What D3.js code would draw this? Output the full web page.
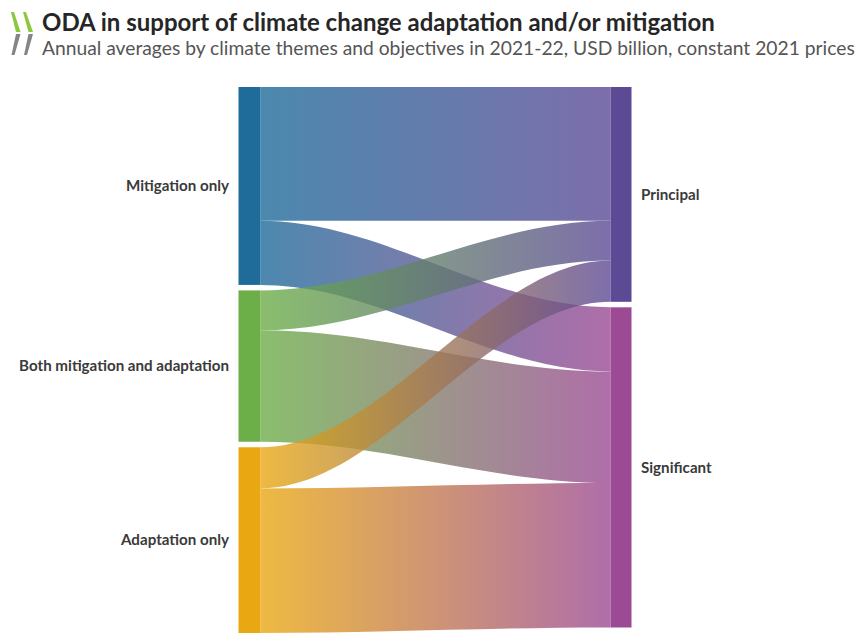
<!DOCTYPE html>
<html>
<head>
<meta charset="utf-8">
<script src="https://cdn.jsdelivr.net/npm/d3@7"></script>
<style>
  body { margin: 0; background: #fff; }
  svg { display: block; }
</style>
</head>
<body>
<svg id="chart" width="858" height="643"></svg>
<script>
// ODA climate themes (left) flowing to Rio marker objectives (right), USD billion
const themes = ["Mitigation only", "Both mitigation and adaptation", "Adaptation only"];
const objectives = ["Principal", "Significant"];
const toPrincipal   = [9.9, 2.95, 3.05];
const toSignificant = [4.75, 8.25, 10.7];

const themeColors     = ["#1f6b9a", "#6cae48", "#e9a812"];
const objectiveColors = ["#5c4a95", "#9b4a93"];

const titleText = "ODA in support of climate change adaptation and/or mitigation";
const subtitleText = "Annual averages by climate themes and objectives in 2021-22, USD billion, constant 2021 prices";

const svg = d3.select("#chart");
const font = "Lato, 'Open Sans', sans-serif";

// Layout
const plotTop = 87, plotBottom = 633;
const nodePad = 5.5;
const leftX = 238.5, leftW = 22;
const rightX = 610.5, rightW = 21;
const curveFactor = 0.33;

// Links table built from the value arrays
const links = [];
themes.forEach((t, i) => {
  links.push({ s: i, t: 0, value: toPrincipal[i] });
  links.push({ s: i, t: 1, value: toSignificant[i] });
});

const leftTotals = themes.map((_, i) => toPrincipal[i] + toSignificant[i]);
const rightTotals = [d3.sum(toPrincipal), d3.sum(toSignificant)];
const maxTotal = Math.max(d3.sum(leftTotals), d3.sum(rightTotals));
const maxCount = Math.max(themes.length, objectives.length);

const h = d3.scaleLinear()
  .domain([0, maxTotal])
  .range([0, (plotBottom - plotTop) - (maxCount - 1) * nodePad]);

function stack(totals) {
  let y = plotTop;
  return totals.map(v => {
    const n = { y0: y, y1: y + h(v) };
    y = n.y1 + nodePad;
    return n;
  });
}
const leftNodes = stack(leftTotals);
const rightNodes = stack(rightTotals);

// Link offsets: source side ordered by objective, target side ordered by theme
const srcOff = leftNodes.map(n => n.y0);
const tgtOff = rightNodes.map(n => n.y0);
links.forEach(l => {
  const th = h(l.value);
  l.sy0 = srcOff[l.s]; l.sy1 = l.sy0 + th; srcOff[l.s] = l.sy1;
});
d3.range(objectives.length).forEach(t => {
  links.filter(l => l.t === t).sort((a, b) => a.s - b.s).forEach(l => {
    const th = h(l.value);
    l.ty0 = tgtOff[t]; l.ty1 = l.ty0 + th; tgtOff[t] = l.ty1;
  });
});

const defs = svg.append("defs");
const x0 = leftX + leftW, x1 = rightX;
const curvy = (rightX - leftX) * curveFactor;

links.forEach((l, i) => {
  const g = defs.append("linearGradient")
    .attr("id", "lg" + i)
    .attr("gradientUnits", "userSpaceOnUse")
    .attr("x1", x0).attr("x2", x1).attr("y1", 0).attr("y2", 0);
  g.append("stop").attr("offset", "0%").attr("stop-color", themeColors[l.s]);
  g.append("stop").attr("offset", "100%").attr("stop-color", objectiveColors[l.t]);
});

function ribbon(l) {
  const p = d3.path();
  p.moveTo(x0, l.sy0);
  p.bezierCurveTo(x0 + curvy, l.sy0, x1 - curvy, l.ty0, x1, l.ty0);
  p.lineTo(x1, l.ty1);
  p.bezierCurveTo(x1 - curvy, l.ty1, x0 + curvy, l.sy1, x0, l.sy1);
  p.closePath();
  return p.toString();
}

svg.append("g").selectAll("path")
  .data(links)
  .join("path")
  .attr("d", ribbon)
  .attr("fill", (d, i) => `url(#lg${i})`)
  .attr("fill-opacity", 0.8);

// Nodes
svg.append("g").selectAll("rect")
  .data(leftNodes)
  .join("rect")
  .attr("x", leftX).attr("width", leftW)
  .attr("y", d => d.y0).attr("height", d => d.y1 - d.y0)
  .attr("fill", (d, i) => themeColors[i]);

svg.append("g").selectAll("rect")
  .data(rightNodes)
  .join("rect")
  .attr("x", rightX).attr("width", rightW)
  .attr("y", d => d.y0).attr("height", d => d.y1 - d.y0)
  .attr("fill", (d, i) => objectiveColors[i]);

// Scale a text element's font size so it spans the given width
function fit(sel, width) {
  const base = parseFloat(sel.attr("font-size"));
  const w = sel.node().getComputedTextLength();
  const size = base * width / w;
  sel.attr("font-size", size.toFixed(2));
  return size;
}

// Node labels
const labelColor = "#3a3a3a";
const leftLabels = svg.append("g").selectAll("text")
  .data(themes)
  .join("text")
  .attr("x", leftX - 9.5)
  .attr("y", (d, i) => (leftNodes[i].y0 + leftNodes[i].y1) / 2)
  .attr("dy", "0.35em")
  .attr("text-anchor", "end")
  .attr("font-family", font)
  .attr("font-weight", 700)
  .attr("font-size", 13)
  .attr("fill", labelColor)
  .text(d => d);

const probe = leftLabels.filter((d, i) => i === 1);
const labelSize = fit(probe, 210);
leftLabels.attr("font-size", labelSize.toFixed(2));

svg.append("g").selectAll("text")
  .data(objectives)
  .join("text")
  .attr("x", rightX + rightW + 9.5)
  .attr("y", (d, i) => (rightNodes[i].y0 + rightNodes[i].y1) / 2)
  .attr("dy", "0.35em")
  .attr("font-family", font)
  .attr("font-weight", 700)
  .attr("font-size", labelSize.toFixed(2))
  .attr("fill", labelColor)
  .text(d => d);

// Title block
const title = svg.append("text")
  .attr("x", 42).attr("y", 31)
  .attr("font-family", font)
  .attr("font-weight", 700)
  .attr("font-size", 21)
  .attr("fill", "#262626")
  .text(titleText);
fit(title, 673);

const subtitle = svg.append("text")
  .attr("x", 42).attr("y", 55)
  .attr("font-family", font)
  .attr("font-size", 17)
  .attr("fill", "#555")
  .text(subtitleText);
fit(subtitle, 813);

// Logo chevrons: tapered green upper strokes, grey lower strokes
const logo = svg.append("g");
const chevrons = [
  { pts: [[11, 12], [14, 12], [20.5, 32], [16, 32]], c: "#8dc63f" },
  { pts: [[23, 12], [26, 12], [33, 32], [28.5, 32]], c: "#8dc63f" },
  { pts: [[16, 34], [20.5, 34], [14.5, 55], [11.5, 55]], c: "#858585" },
  { pts: [[28.5, 34], [33, 34], [27, 55], [24, 55]], c: "#858585" }
];
logo.selectAll("polygon")
  .data(chevrons)
  .join("polygon")
  .attr("points", d => d.pts.map(p => p.join(",")).join(" "))
  .attr("fill", d => d.c);
</script>
</body>
</html>
